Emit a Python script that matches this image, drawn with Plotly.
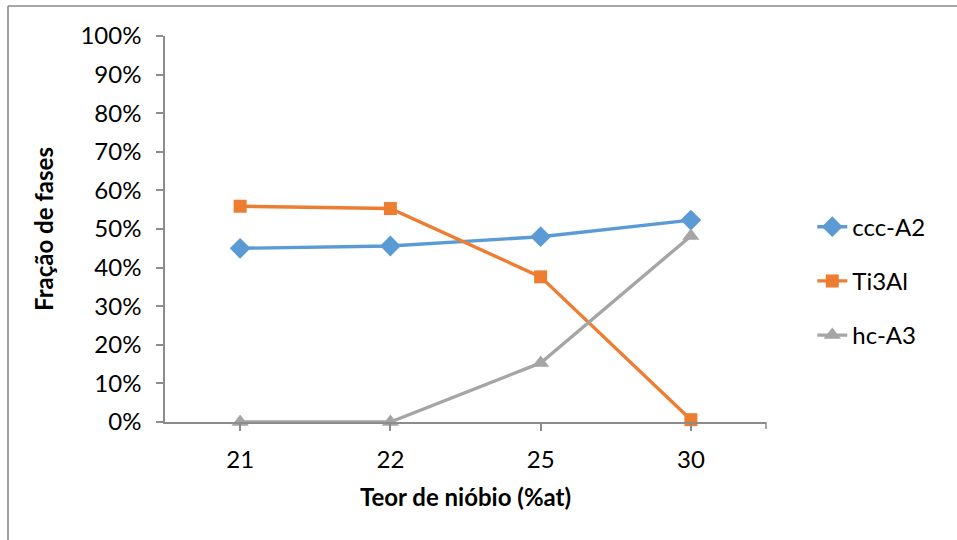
import plotly.graph_objects as go

# Niobium content (at.%) and phase fractions (%)
niobium = ["21", "22", "25", "30"]
ccc_a2 = [45.0, 45.6, 48.0, 52.3]
ti3al = [55.9, 55.3, 37.6, 0.6]
hc_a3 = [0.0, 0.0, 15.3, 48.2]
y_ticks = [0, 10, 20, 30, 40, 50, 60, 70, 80, 90, 100]
y_tick_text = [f"{v}%" for v in y_ticks]

W, H = 957, 540
L, R, T, B = 165, 191, 36, 118
FONT = "Lato, 'Open Sans', sans-serif"
AXIS_GRAY = "#8c8c8c"

series = [
    ("ccc-A2", ccc_a2, "#5b9bd5", "diamond", 16),
    ("Ti3Al", ti3al, "#ed7d31", "square", 13),
    ("hc-A3", hc_a3, "#a5a5a5", "triangle-up", 15),
]

fig = go.Figure()
for i, (name, vals, color, sym, size) in enumerate(series):
    fig.add_trace(go.Scatter(
        x=niobium, y=vals, name=name, mode="lines+markers",
        legendgroup=f"g{i}",
        line=dict(color=color, width=3.4),
        marker=dict(symbol=sym, size=size, color=color, line=dict(width=0)),
        cliponaxis=False,
    ))

pw = W - L - R
ph = H - T - B

# frame around the chart area (top and left edges)
fx = (8 - L) / pw
fy = (H - B - 6) / ph
fig.add_shape(type="line", xref="paper", yref="paper", x0=fx, x1=(W - L) / pw + 0.01,
              y0=fy, y1=fy, line=dict(color="#8a8a8a", width=1.6))
fig.add_shape(type="line", xref="paper", yref="paper", x0=fx, x1=fx,
              y0=fy, y1=-(B + 5) / ph, line=dict(color="#8a8a8a", width=1.6))
# closing tick at the right end of the category axis
fig.add_shape(type="line", xref="paper", yref="paper", x0=1, x1=1,
              y0=0, y1=-7 / ph, line=dict(color=AXIS_GRAY, width=1.5))

fig.update_layout(
    width=W, height=H,
    margin=dict(l=L, r=R, t=T, b=B),
    paper_bgcolor="white", plot_bgcolor="white",
    font=dict(family=FONT, size=24, color="#000000"),
    showlegend=True,
    legend=dict(
        x=1.077, y=0.365, xanchor="left", yanchor="middle",
        font=dict(family=FONT, size=24, color="#000000"),
        tracegroupgap=20,
        bgcolor="rgba(0,0,0,0)",
    ),
    xaxis=dict(
        type="category", range=[-0.5, 3.5],
        showline=True, linecolor=AXIS_GRAY, linewidth=1.5,
        ticks="outside", ticklen=7, tickcolor=AXIS_GRAY, tickwidth=1.5,
        ticklabelstandoff=8,
        showgrid=False, zeroline=False,
        tickfont=dict(family=FONT, size=24),
        title=dict(text="<b>Teor de nióbio (%at)</b>",
                   font=dict(family=FONT, size=24), standoff=18),
    ),
    yaxis=dict(
        range=[0, 100], tickvals=y_ticks, ticktext=y_tick_text,
        showline=True, linecolor=AXIS_GRAY, linewidth=1.5,
        ticks="outside", ticklen=7, tickcolor=AXIS_GRAY, tickwidth=1.5,
        ticklabelstandoff=10,
        showgrid=False, zeroline=False,
        tickfont=dict(family=FONT, size=24),
        title=dict(text="<b>Fração de fases</b>",
                   font=dict(family=FONT, size=24), standoff=20),
    ),
)

fig.write_html("out.html")
